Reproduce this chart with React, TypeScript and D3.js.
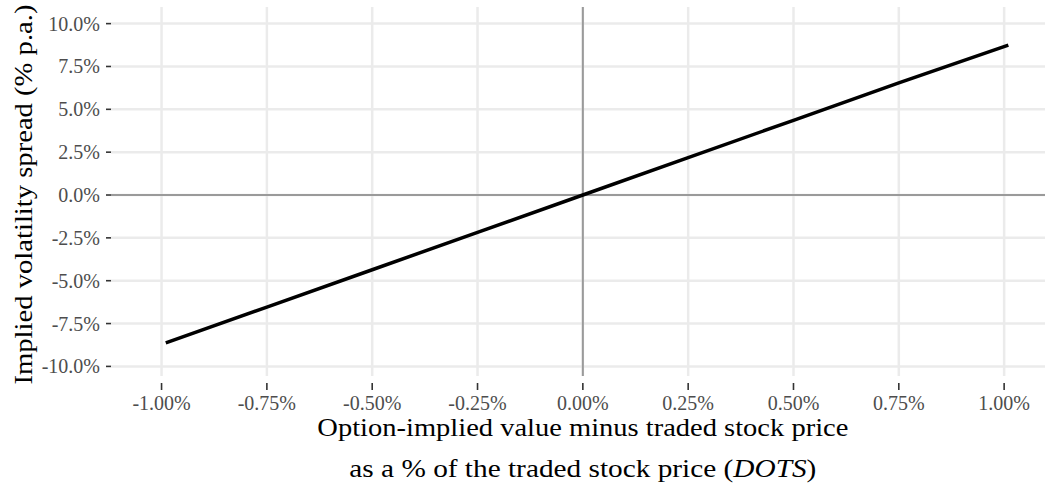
import React from 'react';
import * as d3 from 'd3';

// DOTS (% of traded price) vs implied volatility spread (% p.a.)
const dotsValues = [-0.99, -0.75, -0.5, -0.25, 0, 0.25, 0.5, 0.75, 1.01];
const spreadValues = [-8.63, -6.54, -4.36, -2.18, 0, 2.18, 4.36, 6.54, 8.75];

const xTicks = [-1, -0.75, -0.5, -0.25, 0, 0.25, 0.5, 0.75, 1];
const yTicks = [-10, -7.5, -5, -2.5, 0, 2.5, 5, 7.5, 10];

const xTitle1 = 'Option-implied value minus traded stock price';
const xTitle2 = 'as a % of the traded stock price (';
const xTitleItalic = 'DOTS';
const yTitle = 'Implied volatility spread (% p.a.)';

const width = 1045;
const height = 485;
const panel = { left: 111, right: 1045, top: 7, bottom: 376 };
const font = '"Liberation Serif", "Times New Roman", serif';

export default function App() {
  const x = d3.scaleLinear().domain([-1.12, 1.097]).range([panel.left, panel.right]);
  const y = d3.scaleLinear().domain([-10.56, 10.97]).range([panel.bottom, panel.top]);

  const points = dotsValues.map((d, i) => [d, spreadValues[i]] as [number, number]);
  const line = d3.line<[number, number]>()
    .x(d => x(d[0]))
    .y(d => y(d[1]));

  const fmtX = (v: number) => d3.format('.2f')(v).replace('−', '-') + '%';
  const fmtY = (v: number) => d3.format('.1f')(v).replace('−', '-') + '%';

  const midX = x(0);
  const midY = (panel.top + panel.bottom) / 2 + 3;

  return (
    <svg width={width} height={height} style={{ position: 'absolute', left: 0, top: 0, background: '#fff' }}>
      {/* grid */}
      {yTicks.map(t => (
        <line key={'gy' + t} x1={panel.left} x2={panel.right} y1={y(t)} y2={y(t)}
          stroke="#EBEBEB" strokeWidth={2.5} />
      ))}
      {xTicks.map(t => (
        <line key={'gx' + t} x1={x(t)} x2={x(t)} y1={panel.top} y2={panel.bottom}
          stroke="#EBEBEB" strokeWidth={2.5} />
      ))}
      {/* zero lines */}
      <line x1={panel.left} x2={panel.right} y1={y(0)} y2={y(0)} stroke="#9A9A9A" strokeWidth={2} />
      <line x1={x(0)} x2={x(0)} y1={panel.top} y2={panel.bottom} stroke="#9A9A9A" strokeWidth={2} />

      {/* data */}
      <path d={line(points) ?? ''} fill="none" stroke="#000" strokeWidth={3.5} />

      {/* y axis */}
      {yTicks.map(t => (
        <g key={'ty' + t}>
          <line x1={panel.left - 5} x2={panel.left} y1={y(t)} y2={y(t)} stroke="#333" strokeWidth={1.6} />
          <text x={panel.left - 11} y={y(t)} dy="0.35em" textAnchor="end"
            fontFamily={font} fontSize={20} fill="#4D4D4D">{fmtY(t)}</text>
        </g>
      ))}
      {/* x axis */}
      {xTicks.map(t => (
        <g key={'tx' + t}>
          <line x1={x(t)} x2={x(t)} y1={panel.bottom + 7} y2={panel.bottom + 14} stroke="#333" strokeWidth={1.6} />
          <text x={x(t)} y={410} textAnchor="middle"
            fontFamily={font} fontSize={20} fill="#4D4D4D">{fmtX(t)}</text>
        </g>
      ))}

      {/* titles */}
      <text x={midX} y={436} textAnchor="middle" fontFamily={font} fontSize={25} fill="#000"
        textLength={531} lengthAdjust="spacingAndGlyphs">
        {xTitle1}
      </text>
      <text x={midX} y={477} textAnchor="middle" fontFamily={font} fontSize={25} fill="#000"
        textLength={467} lengthAdjust="spacingAndGlyphs">
        {xTitle2}<tspan fontStyle="italic">{xTitleItalic}</tspan>)
      </text>
      <text transform={`translate(32,${midY}) rotate(-90)`} textAnchor="middle"
        fontFamily={font} fontSize={25} fill="#000"
        textLength={380} lengthAdjust="spacingAndGlyphs">{yTitle}</text>
    </svg>
  );
}
